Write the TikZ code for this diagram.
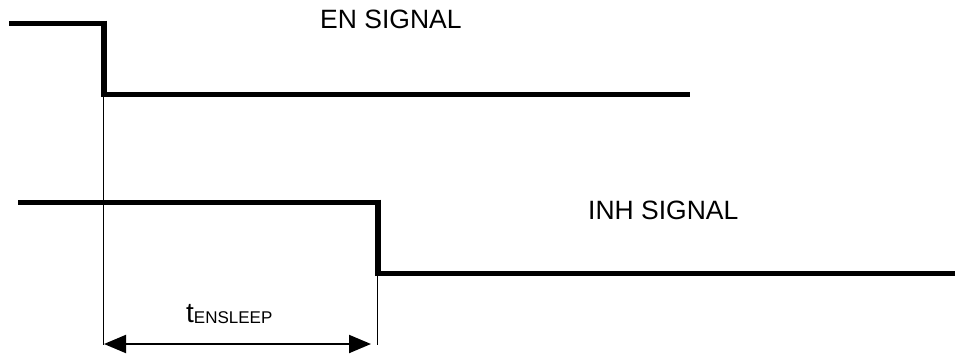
\documentclass[tikz,border=0pt]{standalone}
\usepackage{fontspec}
\setmainfont{Liberation Sans}
\usetikzlibrary{arrows.meta,calc}
\begin{document}
\begin{tikzpicture}[x=1pt,y=-1pt,
  sig/.style={line width=5pt, line cap=butt},
  edge/.style={line width=6pt, line cap=butt},
  guide/.style={line width=1.5pt},
  dim/.style={line width=2pt, {Triangle[length=22pt,width=18pt]}-{Triangle[length=22pt,width=18pt]}},
  lbl/.style={inner sep=0pt, anchor=base west, font=\fontsize{26.5}{26.5}\selectfont}]
\useasboundingbox (0,0) rectangle (955,356);
% EN signal
\coordinate (ena) at (9,23);
\coordinate (enb) at (104,23);
\coordinate (enc) at (104,94.5);
\coordinate (end) at (690,94.5);
\draw[sig] (ena) -- (enb);
\draw[edge] ($(enb)+(0,-2.5)$) -- ($(enc)+(0,2.5)$);
\draw[sig] (enc) -- (end);
% INH signal
\coordinate (ina) at (18,202);
\coordinate (inb) at (377.5,202);
\coordinate (inc) at (377.5,273);
\coordinate (ind) at (955,273);
\draw[sig] (ina) -- (inb);
\draw[edge] ($(inb)+(0,-2.5)$) -- ($(inc)+(0,2.5)$);
\draw[sig] (inc) -- (ind);
% guide lines
\coordinate (gl0) at (103.5,97);
\coordinate (gl) at (103.5,345);
\coordinate (gr0) at (377.5,275.5);
\coordinate (gr) at (377.5,345);
\draw[guide] (gl0) -- (gl);
\draw[guide] (gr0) -- (gr);
% dimension arrow
\coordinate (al) at (104,344);
\coordinate (ar) at (371,344);
\draw[dim] (al) -- (ar);
% labels
\node[lbl] (enlbl) at (320,28) {EN SIGNAL};
\node[lbl] (inhlbl) at (588,219) {INH SIGNAL};
\node[lbl, font=\fontsize{28}{28}\selectfont] (tlbl) at (186,322) {t\raisebox{-1pt}{\fontsize{17}{17}\selectfont ENSLEEP}};
\end{tikzpicture}
\end{document}
